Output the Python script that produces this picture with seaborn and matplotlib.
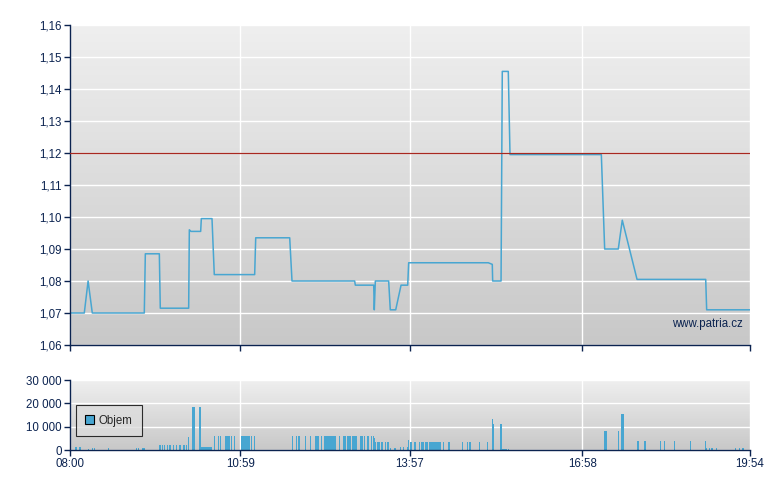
import numpy as np
import pandas as pd
import matplotlib
matplotlib.use("Agg")
import matplotlib.pyplot as plt
from matplotlib.patches import Patch
from matplotlib.ticker import FuncFormatter
import seaborn as sns

# --- data -----------------------------------------------------------------
# minutes after 08:00 and price
cas_min = [0, 15, 19, 23.4, 78, 79.1, 93.8, 94.8, 124.6, 125.3, 127, 137.2,
           137.9, 149.1, 151.5, 193.9, 195, 230.7, 233.1, 298.9, 299.6, 318.9,
           319.5, 320.6, 334.6, 336.3, 342, 347.6, 354.6, 355.6, 439.2, 443.4,
           443.8, 452.6, 453.9, 460.2, 462, 557.9, 561.4, 575.7, 579.9, 595.4,
           667.5, 668.5, 714]
cena = [1.070, 1.070, 1.080, 1.070, 1.070, 1.0885, 1.0885, 1.0715, 1.0715,
        1.096, 1.0955, 1.0955, 1.0995, 1.0995, 1.082, 1.082, 1.0935, 1.0935,
        1.080, 1.080, 1.0787, 1.0787, 1.071, 1.080, 1.080, 1.071, 1.071,
        1.0787, 1.0787, 1.0857, 1.0857, 1.0852, 1.080, 1.080, 1.1455, 1.1455,
        1.1195, 1.1195, 1.090, 1.090, 1.099, 1.0805, 1.0805, 1.071, 1.071]

# volume bars: start minute, duration (minutes), volume
obj_start = [0, 5, 6.5, 9.5, 11, 18.9, 23, 25, 40, 69.3, 71.4, 75.6,
             93.5, 95, 97, 98.5, 101.5, 103.5, 105.5, 108, 111, 114, 116,
             118.5, 120, 121.5, 124, 125.5, 128.1, 130.5, 135.8, 137.2,
             151.5, 155.1, 157.2, 162.8, 169, 172.2, 179.6, 190.4, 193.2,
             233.1, 237.3, 239.4, 246.8, 252, 257.3, 263.6, 266.7, 282.5,
             286.7, 290.9, 296.1, 304.5, 308.7, 311.9, 316, 317.8, 319.2,
             320.2, 322.3, 326.5, 330.7, 332.9, 336, 340.2, 346.5, 349.7,
             353.9, 354.9, 357, 361.2, 366.5, 368.6, 372.8, 377, 391.7, 396.9,
             411.6, 416.9, 419, 429.5, 437.9, 443.1, 444.2, 451.5, 453.6,
             459.9, 560.7, 575.4, 578.6, 595.4, 602.7, 619.5, 623.7, 634.2,
             651, 666.8, 667.8, 670.9, 673.1, 678.3, 698.3, 702.5, 705.6]
obj_delka = [1.5, 1, 1, 1, 1, 1, 1, 1, 1, 1, 1, 3,
             1, 1, 1, 1, 1, 1, 1, 1, 1, 1, 1,
             1, 1, 1, 1, 1, 1.8, 1, 1.4, 11.6,
             1, 1, 1, 4.9, 1, 1, 9.5, 1, 1,
             1, 1, 2.1, 1, 1, 4.2, 1, 12.3, 1,
             3.2, 4.2, 5.3, 3.2, 1, 2.1, 1, 1, 1,
             1, 3.2, 2.1, 1, 2.1, 1, 2.1, 1, 1,
             1, 1, 2.1, 2.1, 1, 3.2, 3.2, 12.6, 1, 2.1,
             1, 1, 1.8, 1, 1, 1, 1, 1.8, 5.3,
             1, 2.8, 1, 2.8, 2.1, 2.1, 1, 1, 1,
             1, 1, 1, 1, 2.1, 1, 1, 1, 2.1]
obj_hodnota = [1200, 1200, 1200, 1200, 1200, 600, 1000, 1000, 1000, 1000, 1000, 1000,
               2000, 2000, 2000, 2000, 2000, 2000, 2000, 2000, 2000, 2000, 2000,
               2000, 2000, 2000, 5500, 4000, 18500, 18500, 18500, 1200,
               6000, 6000, 6000, 6000, 6000, 6000, 6000, 6000, 6000,
               6000, 6000, 6000, 6000, 6000, 6000, 6000, 6000, 6000,
               6000, 6000, 6000, 6000, 6000, 6000, 6000, 6000, 5000,
               3400, 3500, 3500, 3500, 3500, 1000, 1000, 1500, 1500,
               1500, 4500, 3500, 3500, 3500, 3500, 3500, 3500, 3500, 3500,
               3500, 3500, 3500, 3500, 3500, 13300, 11100, 11100, 600,
               600, 8000, 8000, 15500, 3800, 3800, 3800, 3800, 3800,
               3800, 3800, 1000, 1000, 1000, 1000, 1000, 1000, 1000]

tick_min = [0, 179, 357, 538, 714]
tick_popisky = ["08:00", "10:59", "13:57", "16:58", "19:54"]
cena_ticks = [1.06, 1.07, 1.08, 1.09, 1.10, 1.11, 1.12, 1.13, 1.14, 1.15, 1.16]
obj_ticks = [0, 10000, 20000, 30000]
referencni_cena = 1.12

# --- style ------------------------------------------------------------------
sns.set_theme(style="white")
plt.rcParams["font.family"] = ["Liberation Sans", "DejaVu Sans"]
plt.rcParams["font.size"] = 8

NAVY = "#0b2350"
MODRA = "#48a6d1"


def gradient_pozadi(ax):
    grad = np.linspace(0, 1, 256).reshape(-1, 1)
    cmap = matplotlib.colors.LinearSegmentedColormap.from_list(
        "bg", ["#efefef", "#c8c8c8"])
    ax.imshow(grad, cmap=cmap, aspect="auto", extent=[0, 1, 0, 1],
              transform=ax.transAxes, zorder=-10, interpolation="bicubic")


def uprav_osy(ax):
    for s in ["top", "right"]:
        ax.spines[s].set_visible(False)
    for s in ["left", "bottom"]:
        ax.spines[s].set_color(NAVY)
        ax.spines[s].set_linewidth(1.0)
    ax.tick_params(axis="both", colors=NAVY, labelcolor=NAVY, direction="out",
                   length=4, width=1, labelsize=8.3, left=True, bottom=True,
                   pad=2)
    ax.set_xlim(tick_min[0], tick_min[-1])
    ax.set_xticks(tick_min)
    ax.grid(True, color="white", linewidth=1.0)
    ax.set_axisbelow(True)
    ax.set_xlabel("")
    ax.set_ylabel("")


fig = plt.figure(figsize=(7.8, 4.9), dpi=100)
ax1 = fig.add_axes([70 / 780, 1 - 345 / 490, 680 / 780, 320 / 490])
ax2 = fig.add_axes([70 / 780, 1 - 450 / 490, 680 / 780, 70 / 490])

# --- price panel -----------------------------------------------------------
gradient_pozadi(ax1)
df = pd.DataFrame({"cas": cas_min, "cena": cena})
sns.lineplot(data=df, x="cas", y="cena", ax=ax1, sort=False, estimator=None,
             color=MODRA, linewidth=1.1)
ax1.axhline(referencni_cena, color="#a82820", linewidth=0.9, zorder=3)
ax1.set_ylim(cena_ticks[0], cena_ticks[-1])
ax1.set_yticks(cena_ticks)
ax1.yaxis.set_major_formatter(FuncFormatter(lambda v, p: f"{v:.2f}".replace(".", ",")))
uprav_osy(ax1)
ax1.set_xticklabels([])
ax1.text(0.99, 0.065, "www.patria.cz", transform=ax1.transAxes, ha="right",
         va="center", color=NAVY, fontsize=8.3)

# --- volume panel ----------------------------------------------------------
gradient_pozadi(ax2)
ax2.bar(obj_start, obj_hodnota, width=obj_delka, align="edge", color=MODRA,
        linewidth=0, zorder=2)
ax2.set_ylim(obj_ticks[0], obj_ticks[-1])
ax2.set_yticks(obj_ticks)
ax2.yaxis.set_major_formatter(FuncFormatter(lambda v, p: f"{int(v):,}".replace(",", " ")))
uprav_osy(ax2)
ax2.set_xticklabels(tick_popisky)
leg = ax2.legend(handles=[Patch(facecolor=MODRA, edgecolor="black", linewidth=0.8,
                                label="Objem")],
                 loc="upper left", bbox_to_anchor=(0.0, 0.72), frameon=True,
                 fancybox=False, handlelength=0.8, handleheight=0.8,
                 handletextpad=0.4, borderpad=0.8, fontsize=8.3)
leg.get_frame().set_edgecolor("black")
leg.get_frame().set_facecolor("#dcdcdc")
leg.get_frame().set_linewidth(0.8)

fig.savefig("out.png", dpi=100)
